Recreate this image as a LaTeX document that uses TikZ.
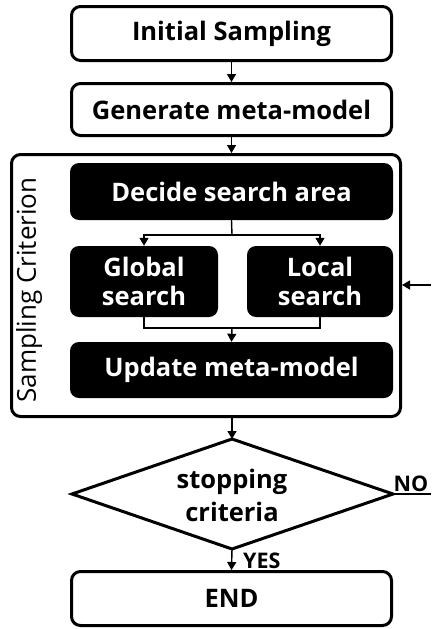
\documentclass[tikz,border=0pt]{standalone}
\usepackage{fontspec}
\setmainfont{Open Sans}
\usetikzlibrary{arrows.meta}
\tikzset{
  wbox/.style={draw=black,line width=3pt,rounded corners=9pt,fill=white,inner sep=0pt,font=\bfseries\fontsize{25.5}{28}\selectfont},
  bbox/.style={fill=black,text=white,rounded corners=9pt,inner sep=0pt,align=center,font=\bfseries\fontsize{25.5}{29}\selectfont},
  conn/.style={line width=1.4pt},
  arr/.style={conn,-{Triangle[width=9pt,length=8pt]}},
  lbl/.style={font=\bfseries\fontsize{21.5}{23}\selectfont,inner sep=0pt}
}
\begin{document}
\begin{tikzpicture}[x=1pt,y=-1pt]
\useasboundingbox[fill=white] (0,0) rectangle (431,629);
% outer sampling criterion box
\node[draw=black,line width=3pt,rounded corners=9pt,minimum width=389pt,minimum height=262pt,inner sep=0pt] (big) at (206,285.5) {};
\node[rotate=90,inner sep=0pt,font=\fontsize{26}{28}\selectfont] (sc) at (29,290) {Sampling Criterion};
\node[wbox,minimum width=320pt,minimum height=54pt] (init) at (231.5,33.5) {Initial Sampling};
\node[wbox,minimum width=320pt,minimum height=52pt] (gen) at (231.5,109.5) {Generate meta-model};
\node[bbox,minimum width=323pt,minimum height=57pt] (decide) at (231.5,191.5) {Decide search area};
\node[bbox,minimum width=148pt,minimum height=71pt] (global) at (144,281.5) {Global\\search};
\node[bbox,minimum width=146pt,minimum height=71pt] (local) at (320,281.5) {Local\\search};
\node[bbox,minimum width=323pt,minimum height=56pt] (update) at (231.5,370) {Update meta-model};
% decision diamond
\coordinate (dt) at (232,439);
\coordinate (dr) at (393,494);
\coordinate (db) at (232,549);
\coordinate (dl) at (72,494);
\draw[line width=3pt] (dt) -- (dr) -- (db) -- (dl) -- cycle;
\node[inner sep=0pt,align=center,font=\bfseries\fontsize{25.5}{33}\selectfont] (dia) at (232,495) {stopping\\criteria};
\node[wbox,minimum width=320pt,minimum height=54pt] (end) at (231.5,598.5) {END};
% connectors
\draw[arr] (init.south) -- (gen.north);
\draw[arr] (gen.south) -- (gen.south |- big.north);
\coordinate (split) at (232,235);
\draw[conn] (decide.south) -- (split);
\draw[arr] (split) -| (global.north);
\draw[arr] (split) -| (local.north);
\coordinate (merge) at (232,328);
\draw[conn] (global.south) |- (merge);
\draw[conn] (local.south) |- (merge);
\draw[arr] (merge) -- (update.north);
\draw[arr] (dt |- big.south) -- (dt);
\draw[arr] (db) -- (end.north);
\coordinate (fb) at (431,285);
\draw[arr] (fb) -- (fb -| big.east);
\coordinate (no) at (431,494);
\draw[conn] (dr) -- (no);
\node[lbl,anchor=south] (nolbl) at (411,492) {NO};
\node[lbl,anchor=west] (yes) at (243,561) {YES};
\end{tikzpicture}
\end{document}
